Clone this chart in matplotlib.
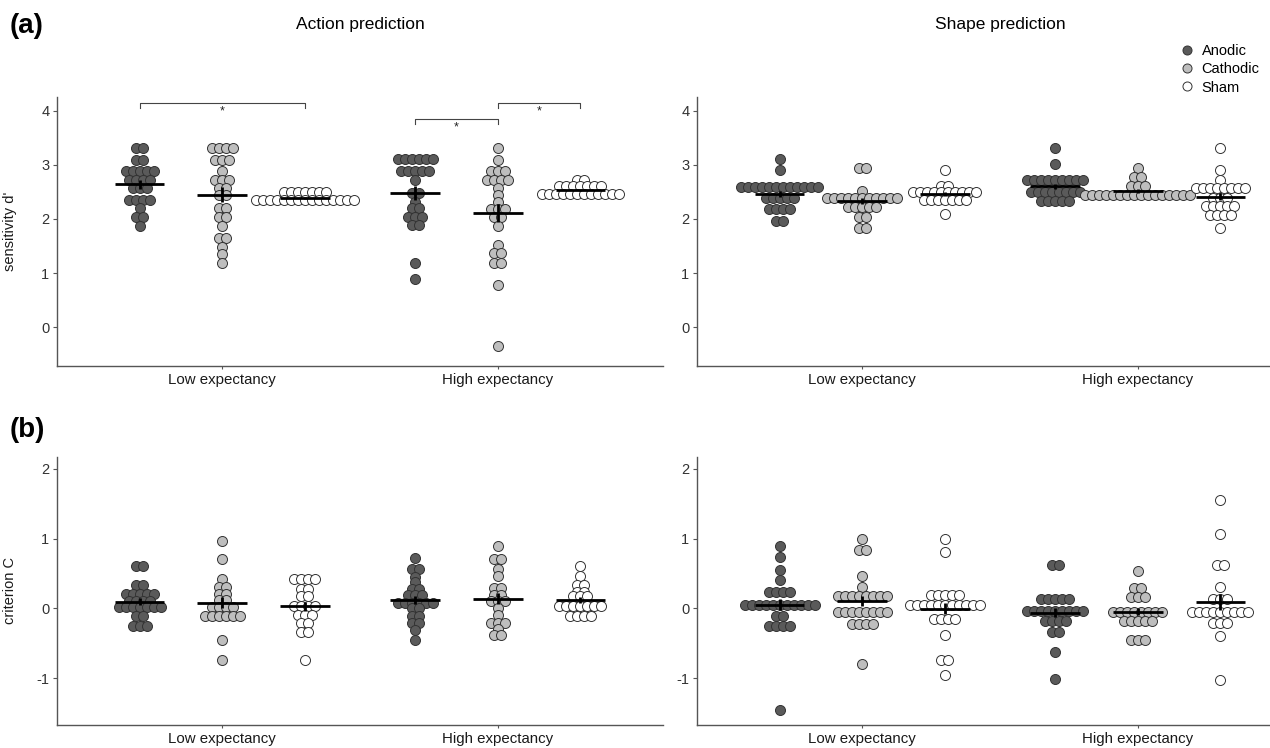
import matplotlib.pyplot as plt
from matplotlib.lines import Line2D
import numpy as np

plt.rcParams["font.family"] = ["Liberation Sans", "DejaVu Sans"]

conditions = ["Anodic", "Cathodic", "Sham"]
expectancy = ["Low expectancy", "High expectancy"]
colours = ["#5a5a5a", "#bebebe", "#ffffff"]

# each group: (binned value, number of dots in that bin)
# sensitivity d' - action prediction
d_act_low_ano = ([3.30, 3.09, 2.89, 2.72, 2.57, 2.35, 2.20, 2.04, 1.87], [2, 2, 5, 4, 3, 4, 1, 2, 1])
d_act_low_cat = ([3.30, 3.09, 2.89, 2.72, 2.57, 2.45, 2.20, 2.04, 1.87, 1.65, 1.49, 1.35, 1.18],
                 [4, 3, 1, 3, 2, 2, 2, 2, 1, 2, 1, 1, 1])
d_act_low_sham = ([2.49, 2.34], [7, 15])
d_act_high_ano = ([3.10, 2.89, 2.72, 2.47, 2.32, 2.20, 2.04, 1.88, 1.18, 0.90], [6, 5, 1, 2, 1, 2, 3, 2, 1, 1])
d_act_high_cat = ([3.30, 3.09, 2.89, 2.72, 2.57, 2.45, 2.32, 2.18, 2.03, 1.87, 1.52, 1.37, 1.18, 0.78, -0.35],
                  [1, 1, 3, 4, 1, 1, 1, 3, 2, 1, 1, 2, 2, 1, 1])
d_act_high_sham = ([2.72, 2.60, 2.46], [2, 7, 12])

# sensitivity d' - shape prediction
d_shp_low_ano = ([3.11, 2.90, 2.58, 2.38, 2.18, 1.97], [1, 1, 12, 5, 4, 2])
d_shp_low_cat = ([2.94, 2.52, 2.38, 2.22, 2.04, 1.83], [2, 1, 11, 5, 2, 2])
d_shp_low_sham = ([2.90, 2.61, 2.50, 2.34, 2.09], [1, 2, 10, 7, 1])
d_shp_high_ano = ([3.31, 3.01, 2.71, 2.50, 2.33], [1, 1, 9, 8, 5])
d_shp_high_cat = ([2.94, 2.78, 2.60, 2.44], [1, 2, 3, 16])
d_shp_high_sham = ([3.31, 2.90, 2.72, 2.57, 2.38, 2.23, 2.07, 1.84], [1, 1, 1, 8, 3, 5, 4, 1])

# criterion C - action prediction
c_act_low_ano = ([0.60, 0.34, 0.20, 0.10, 0.02, -0.11, -0.26], [2, 2, 5, 4, 7, 2, 3])
c_act_low_cat = ([0.97, 0.71, 0.42, 0.31, 0.21, 0.12, 0.02, -0.11, -0.45, -0.74],
                 [1, 1, 1, 2, 2, 2, 4, 6, 1, 1])
c_act_low_sham = ([0.42, 0.28, 0.17, 0.03, -0.10, -0.21, -0.34, -0.74], [4, 2, 2, 4, 3, 2, 2, 1])
c_act_high_ano = ([0.72, 0.57, 0.45, 0.38, 0.27, 0.19, 0.08, 0.00, -0.11, -0.21, -0.31, -0.45],
                  [1, 2, 1, 1, 2, 3, 6, 2, 2, 2, 1, 1])
c_act_high_cat = ([0.89, 0.70, 0.57, 0.46, 0.29, 0.19, 0.10, 0.00, -0.09, -0.21, -0.30, -0.38],
                  [1, 2, 1, 1, 2, 2, 3, 1, 1, 3, 1, 2])
c_act_high_sham = ([0.61, 0.46, 0.33, 0.24, 0.17, 0.03, -0.11], [1, 1, 2, 2, 3, 7, 4])

# criterion C - shape prediction
c_shp_low_ano = ([0.89, 0.73, 0.55, 0.40, 0.24, 0.05, -0.11, -0.25, -1.46], [1, 1, 1, 1, 4, 11, 2, 4, 1])
c_shp_low_cat = ([0.99, 0.84, 0.47, 0.30, 0.17, -0.05, -0.23, -0.80], [1, 2, 1, 1, 8, 8, 4, 1])
c_shp_low_sham = ([0.99, 0.80, 0.19, 0.05, -0.16, -0.38, -0.74, -0.96], [1, 1, 5, 11, 4, 1, 2, 1])
c_shp_high_ano = ([0.62, 0.14, -0.04, -0.18, -0.34, -0.63, -1.01], [2, 5, 9, 4, 2, 1, 1])
c_shp_high_cat = ([0.54, 0.29, 0.16, -0.05, -0.18, -0.45], [1, 2, 3, 8, 5, 3])
c_shp_high_sham = ([1.55, 1.06, 0.62, 0.31, 0.13, -0.05, -0.21, -0.39, -1.03], [1, 1, 2, 1, 3, 9, 3, 1, 1])

W, H = 1270, 748
fig = plt.figure(figsize=(W / 100, H / 100), dpi=100)


def px_axes(left, top, right, bottom):
    return fig.add_axes([left / W, 1 - bottom / H, (right - left) / W, (bottom - top) / H])


def draw_panel(ax, groups, ylim, yticks):
    step = 7.0 / 276
    for ci, cat_groups in enumerate(groups):
        for gi, (vals, counts) in enumerate(cat_groups):
            centre = ci + (gi - 1) * 0.3
            xs, ys = [], []
            for v, n in zip(vals, counts):
                for k in range(n):
                    xs.append(centre + (k - (n - 1) / 2) * step)
                    ys.append(v)
            ax.scatter(xs, ys, s=52, facecolor=colours[gi], edgecolor="#333333",
                       linewidth=0.7, zorder=2, clip_on=False)
            data = np.repeat(vals, counts)
            m = data.mean()
            se = data.std(ddof=1) / np.sqrt(len(data))
            ax.hlines(m, centre - 0.09, centre + 0.09, color="black", lw=2.0, zorder=3)
            ax.vlines(centre, m - se, m + se, color="black", lw=2.0, zorder=3)

    ax.set_xlim(-0.6, 1.6)
    ax.set_ylim(*ylim)
    ax.set_xticks([0, 1])
    ax.set_xticklabels(expectancy, fontsize=10.8, color="#1a1a1a")
    ax.set_yticks(yticks)
    ax.set_yticklabels([str(t) for t in yticks], fontsize=10.5, color="#333333")
    for side in ["top", "right"]:
        ax.spines[side].set_visible(False)
    for side in ["left", "bottom"]:
        ax.spines[side].set_color("#555555")
        ax.spines[side].set_linewidth(1.0)
    ax.tick_params(axis="both", color="#555555", length=3, width=0.8, pad=2.5)
    ax.tick_params(axis="x", length=2, pad=3)


def bracket(ax, x1, x2, y, drop):
    ax.plot([x1, x1, x2, x2], [y - drop, y, y, y - drop], color="#444444", lw=0.8, clip_on=False)
    ax.text((x1 + x2) / 2, y - 0.05, "*", ha="center", va="top", fontsize=9, color="#222222")


ax1 = px_axes(57, 97, 663, 366)
ax2 = px_axes(697, 97, 1303, 366)
ax3 = px_axes(57, 457, 663, 725)
ax4 = px_axes(697, 457, 1303, 725)

top_ylim = (-0.715, 4.25)
bot_ylim = (-1.672, 2.168)

draw_panel(ax1, [[d_act_low_ano, d_act_low_cat, d_act_low_sham],
                 [d_act_high_ano, d_act_high_cat, d_act_high_sham]], top_ylim, [0, 1, 2, 3, 4])
draw_panel(ax2, [[d_shp_low_ano, d_shp_low_cat, d_shp_low_sham],
                 [d_shp_high_ano, d_shp_high_cat, d_shp_high_sham]], top_ylim, [0, 1, 2, 3, 4])
draw_panel(ax3, [[c_act_low_ano, c_act_low_cat, c_act_low_sham],
                 [c_act_high_ano, c_act_high_cat, c_act_high_sham]], bot_ylim, [-1, 0, 1, 2])
draw_panel(ax4, [[c_shp_low_ano, c_shp_low_cat, c_shp_low_sham],
                 [c_shp_high_ano, c_shp_high_cat, c_shp_high_sham]], bot_ylim, [-1, 0, 1, 2])

# significance brackets
bracket(ax1, -0.3, 0.3, 4.14, 0.09)
bracket(ax1, 0.7, 1.0, 3.85, 0.09)
bracket(ax1, 1.0, 1.3, 4.14, 0.09)

ax1.set_ylabel("sensitivity d'", fontsize=10.5, color="#1a1a1a")
ax1.yaxis.set_label_coords(-0.066, 0.5)
ax3.set_ylabel("criterion C", fontsize=10.5, color="#1a1a1a")
ax3.yaxis.set_label_coords(-0.066, 0.5)

fig.text(360 / W, 1 - 24 / H, "Action prediction", ha="center", va="center", fontsize=12.5)
fig.text(1000 / W, 1 - 24 / H, "Shape prediction", ha="center", va="center", fontsize=12.5)
fig.text(10 / W, 1 - 26 / H, "(a)", ha="left", va="center", fontsize=20, fontweight="bold")
fig.text(10 / W, 1 - 430 / H, "(b)", ha="left", va="center", fontsize=20, fontweight="bold")

handles = [Line2D([], [], marker="o", linestyle="", markersize=6.5, markerfacecolor=c,
                  markeredgecolor="#333333", markeredgewidth=0.7) for c in colours]
fig.legend(handles, conditions, loc="upper left", bbox_to_anchor=(1174 / W, 1 - 38 / H),
           frameon=False, fontsize=10.5, handletextpad=0.5, labelspacing=0.3,
           borderaxespad=0, handlelength=1.0)

fig.savefig("out.png", dpi=100)
